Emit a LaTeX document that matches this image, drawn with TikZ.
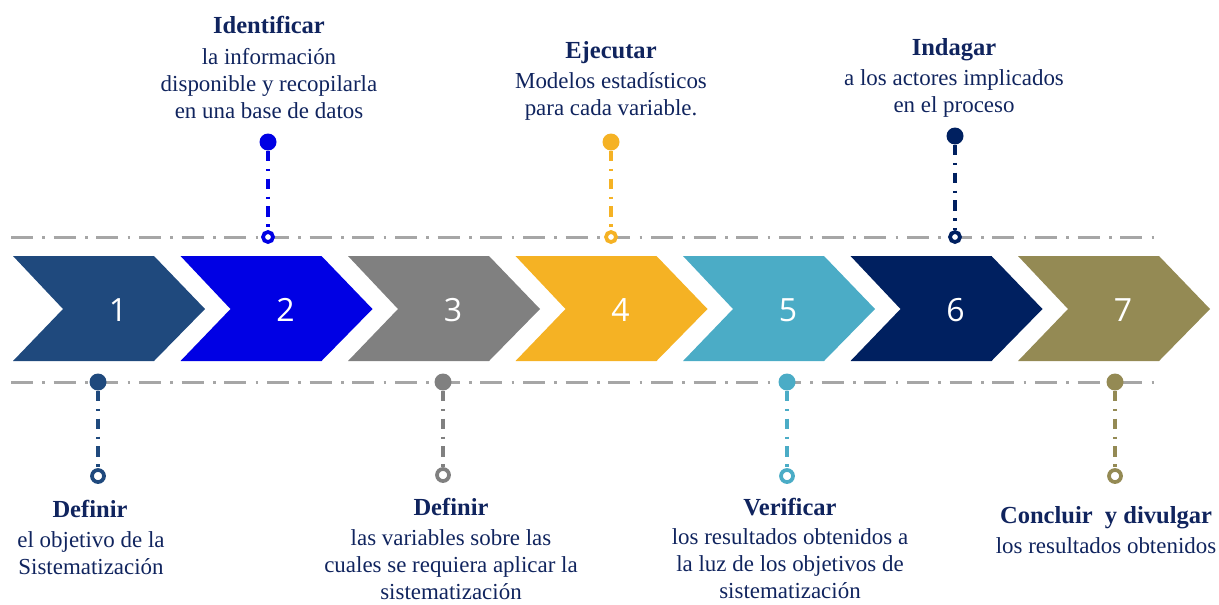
\documentclass[tikz,border=0pt]{standalone}
\usepackage{fontspec}
\setmainfont{Liberation Serif}
\newfontfamily\numfont{Open Sans}
\usetikzlibrary{calc}
\definecolor{paso-1}{RGB}{31,73,125}
\definecolor{paso-2}{RGB}{0,0,228}
\definecolor{paso-3}{RGB}{128,128,128}
\definecolor{paso-4}{RGB}{245,178,36}
\definecolor{paso-5}{RGB}{75,172,198}
\definecolor{paso-6}{RGB}{0,32,96}
\definecolor{paso-7}{RGB}{148,138,84}
\definecolor{texto}{RGB}{16,36,94}
\definecolor{guia}{RGB}{166,166,166}
\tikzset{
	guideline/.style={guia, line width=2.25pt, dash pattern=on 16.5pt off 7pt on 2pt off 6.5pt},
	stem/.style={line width=2.4pt, dash pattern=on 8pt off 5.5pt on 1.8pt off 5.5pt},
	dotfull/.style={circle, fill=#1, inner sep=0pt, minimum size=12.75pt},
	dotopen/.style={circle, draw=#1, fill=white, line width=2.8pt, inner sep=0pt},
	titulo/.style={texto, anchor=base, inner sep=0pt, font=\fontsize{18.4}{22}\selectfont\bfseries},
	cuerpo/.style={texto, anchor=base, inner sep=0pt, align=center, font=\fontsize{17.2}{20.25}\selectfont},
	numero/.style={white, font=\numfont\fontsize{24}{28}\selectfont}
}
\newcommand{\Flecha}[2]{
	\begin{scope}[shift={({(#1-1)*167.5},0)}]
		%chevron body
		\fill[#2] (13,256) -- (154,256) -- (205,309) -- (154,361) -- (13,361) -- (63,309) -- cycle;
		%number
		\node[numero] (n#1) at (118,310) {#1};
	\end{scope}
}
\newcommand{\Hito}[6]{
	%filled dot, open dot and dash-dot stem
	\node[dotfull=#5] (#1a) at (#2,#3) {};
	\node[dotopen=#5, minimum size=#6] (#1b) at (#2,#4) {};
	\draw[stem, #5] (#1a) -- (#1b);
}

\begin{document}
\begin{tikzpicture}[x=0.75pt, y=-0.75pt]
	\useasboundingbox (0,0) rectangle (1219,604);

	%guide lines
	\coordinate (g1) at (11,237);
	\coordinate (g2) at (1160,237);
	\coordinate (g3) at (11,382);
	\coordinate (g4) at (1160,382);
	\draw[guideline] (g1) -- (g2);
	\draw[guideline] (g3) -- (g4);

	%chevrons
	\foreach \c [count=\i] in {paso-1,paso-2,paso-3,paso-4,paso-5,paso-6,paso-7}{
		\Flecha{\i}{\c}
	}

	%milestones
	\Hito{h1}{98}{382}{476}{paso-1}{9pt}
	\Hito{h2}{268}{142}{237}{paso-2}{7.5pt}
	\Hito{h3}{443}{382}{475}{paso-3}{9pt}
	\Hito{h4}{611}{142}{237}{paso-4}{7.5pt}
	\Hito{h5}{787}{382}{476}{paso-5}{9pt}
	\Hito{h6}{955}{136}{237}{paso-6}{7.5pt}
	\Hito{h7}{1115}{382}{476}{paso-7}{9pt}

	%texts (body nodes sit on their last line)
	\node[titulo] (t1) at (90,517) {Definir};
	\node[cuerpo] (b1) at (91,574) {el objetivo de la\\Sistematización};
	\node[titulo] (t2) at (269,33) {Identificar};
	\node[cuerpo] (b2) at (269,118) {la información\\disponible y recopilarla\\en una base de datos};
	\node[titulo] (t3) at (451,515) {Definir};
	\node[cuerpo] (b3) at (451,599) {las variables sobre las\\cuales se requiera aplicar la\\sistematización};
	\node[titulo] (t4) at (611,58) {Ejecutar};
	\node[cuerpo] (b4) at (611,115) {Modelos estadísticos\\para cada variable.};
	\node[titulo] (t5) at (790,515) {Verificar};
	\node[cuerpo] (b5) at (790,598) {los resultados obtenidos a\\la luz de los objetivos de\\sistematización};
	\node[titulo] (t6) at (954,55) {Indagar};
	\node[cuerpo] (b6) at (954,112) {a los actores implicados\\en el proceso};
	\node[titulo] (t7) at (1106,523) {Concluir~ y divulgar};
	\node[cuerpo] (b7) at (1106,553) {los resultados obtenidos};

\end{tikzpicture}
\end{document}
